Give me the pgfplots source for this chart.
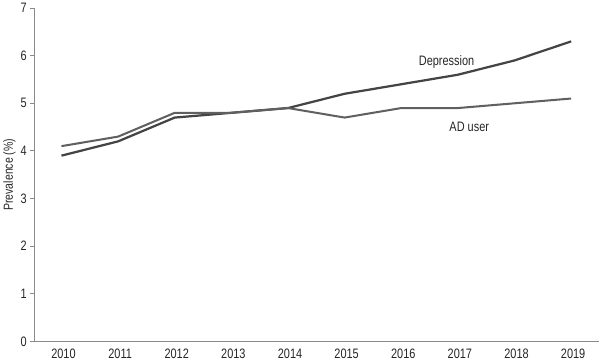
\documentclass[border=0pt]{standalone}
\usepackage{fontspec}
\setmainfont{Liberation Sans}[FakeStretch=0.8]
\usepackage{pgfplots}
\pgfplotsset{compat=1.18}
\definecolor{axisgray}{HTML}{8A8A8A}
\definecolor{linegray}{HTML}{444444}
\begin{document}
\begin{tikzpicture}
\begin{axis}[
  scale only axis,
  width=558pt, height=329pt,
  xmin=2009.52, xmax=2019.5,
  ymin=0, ymax=7,
  axis x line*=bottom, axis y line*=left,
  axis line style={axisgray, line width=1pt, -},
  xtick={2010,...,2019},
  ytick={0,...,7},
  xticklabel style={/pgf/number format/1000 sep=, xshift=2pt},
  /pgf/number format/assume math mode=true,
  x tick style={draw=none},
  y tick style={axisgray, line width=0.8pt},
  tick align=outside,
  major tick length=4pt,
  tick label style={font=\fontsize{13.5}{16}\selectfont, text=black!85},
  ylabel={Prevalence (\%)},
  ylabel style={font=\fontsize{13}{16}\selectfont, text=black!85, yshift=-2pt},
  clip=false,
]
\addplot[linegray, line width=2.2pt] coordinates {
 (2010,3.9) (2011,4.2) (2012,4.7) (2013,4.8) (2014,4.9) (2015,5.2) (2016,5.4) (2017,5.6) (2018,5.9) (2019,6.3)};
\addplot[linegray!85, line width=2pt] coordinates {
 (2010,4.1) (2011,4.3) (2012,4.8) (2013,4.8) (2014,4.9) (2015,4.7) (2016,4.9) (2017,4.9) (2018,5.0) (2019,5.1)};
\node[font=\fontsize{13.5}{16}\selectfont, text=black!85] at (axis cs:2016.8,5.87) {Depression};
\node[font=\fontsize{13.5}{16}\selectfont, text=black!85] at (axis cs:2017.2,4.51) {AD user};
\end{axis}
\end{tikzpicture}
\end{document}
